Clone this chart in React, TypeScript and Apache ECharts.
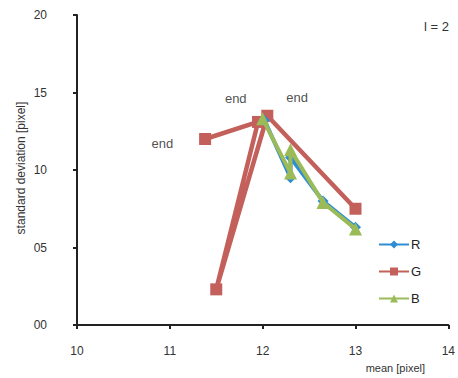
import React, { useEffect, useRef } from "react";
import * as echarts from "echarts";

const seriesNames = ["R", "G", "B"];
const rData: number[][] = [[13.0, 6.3], [12.65, 8.0], [12.3, 10.8], [12.3, 9.5], [12.02, 13.2]];
const gData: number[][] = [[13.0, 7.5], [12.05, 13.5], [11.5, 2.3], [11.95, 13.1], [11.38, 12.0]];
const bData: number[][] = [[13.0, 6.2], [12.65, 7.9], [12.3, 11.3], [12.3, 9.8], [12.0, 13.3]];
const endLabels: number[][] = [[10.92, 11.7], [11.71, 14.6], [12.37, 14.7]];
const xTicks = { min: 10, max: 14, interval: 1 };
const yTicks = { min: 0, max: 20, interval: 5 };

const FONT = "'Liberation Sans Narrow', 'Liberation Sans', Arial, sans-serif";

export default function App() {
  const ref = useRef<HTMLDivElement>(null);
  useEffect(() => {
    const chart = echarts.init(ref.current!, null, { renderer: "svg" });
    const axisCommon = {
      axisLine: { show: true, onZero: false, lineStyle: { color: "#222", width: 2 } },
      axisTick: { show: true, length: 4, lineStyle: { color: "#222", width: 2 } },
      splitLine: { show: false },
    };
    chart.setOption({
      animation: false,
      backgroundColor: "#fff",
      grid: { left: 77, top: 15, right: 9, bottom: 53 },
      xAxis: {
        type: "value",
        ...xTicks,
        ...axisCommon,
        axisLabel: { color: "#333", fontSize: 12, fontFamily: FONT, margin: 20 },
      },
      yAxis: {
        type: "value",
        ...yTicks,
        ...axisCommon,
        axisLabel: {
          color: "#333",
          fontSize: 12,
          fontFamily: FONT,
          margin: 30,
          formatter: (v: number) => (v < 10 ? "0" + v : String(v)),
        },
      },
      legend: {
        data: seriesNames,
        orient: "vertical",
        left: 373,
        top: 233,
        itemWidth: 30,
        itemHeight: 10,
        itemGap: 14,
        textStyle: { color: "#222", fontSize: 13, fontFamily: FONT, padding: [0, 0, 0, -3] },
      },
      graphic: [
        {
          type: "text",
          left: 424,
          top: 20,
          style: { text: "l = 2", fontSize: 13, fontFamily: FONT, fill: "#333" },
        },
        {
          type: "text",
          right: 33,
          top: 362,
          style: { text: "mean [pixel]", fontSize: 11, fontFamily: FONT, fill: "#333" },
        },
        {
          type: "text",
          x: 21,
          y: 168,
          rotation: Math.PI / 2,
          style: {
            text: "standard deviation [pixel]",
            fontSize: 12,
            fontFamily: FONT,
            fill: "#333",
            align: "center",
            verticalAlign: "middle",
          },
        },
      ],
      series: [
        {
          name: "G",
          type: "line",
          data: gData,
          symbol: "rect",
          symbolSize: 12,
          lineStyle: { width: 4.5, color: "#C3605B" },
          itemStyle: { color: "#C3605B" },
          z: 2,
        },
        {
          name: "R",
          type: "line",
          data: rData,
          symbol: "diamond",
          symbolSize: 11,
          lineStyle: { width: 4, color: "#2F8DD3" },
          itemStyle: { color: "#2F8DD3" },
          z: 3,
        },
        {
          name: "B",
          type: "line",
          data: bData,
          symbol: "triangle",
          symbolSize: 13,
          lineStyle: { width: 4, color: "#9BBB59" },
          itemStyle: { color: "#9BBB59" },
          z: 4,
        },
        {
          name: "end",
          type: "scatter",
          data: endLabels,
          symbolSize: 0,
          silent: true,
          label: {
            show: true,
            position: "inside",
            formatter: "end",
            color: "#222",
            fontSize: 13,
            fontFamily: "'Liberation Sans', Arial, sans-serif",
          },
        },
      ],
    });
    return () => chart.dispose();
  }, []);
  return (
    <div
      ref={ref}
      style={{ position: "absolute", left: 0, top: 0, width: 458, height: 378 }}
    />
  );
}
